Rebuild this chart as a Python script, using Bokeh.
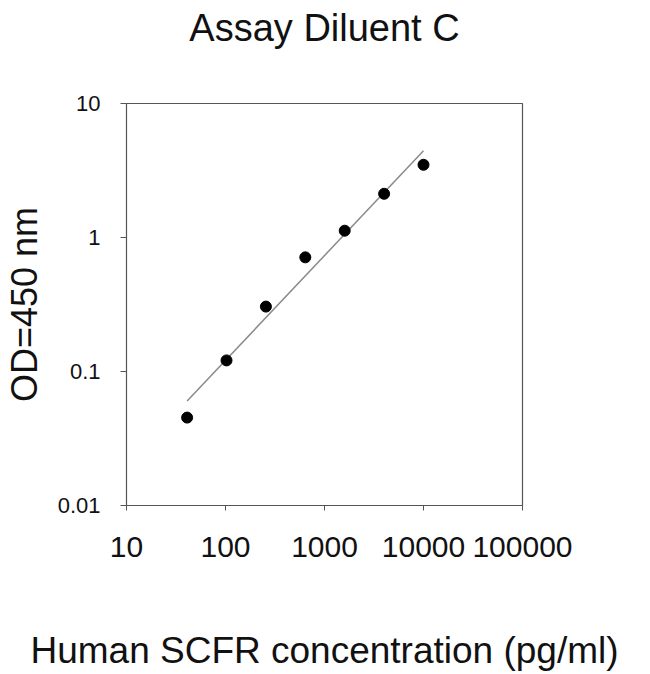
import numpy as np
from bokeh.plotting import figure
from bokeh.models import FixedTicker, Title
from bokeh.embed import file_html
from bokeh.resources import INLINE

# Data
concentration = [40.96, 102.4, 256, 640, 1600, 4000, 10000]
od450 = [0.0453, 0.121, 0.305, 0.711, 1.124, 2.12, 3.49]

x_ticks = [10, 100, 1000, 10000, 100000]
x_tick_labels = ["10", "100", "1000", "10000", "100000"]
y_ticks = [0.01, 0.1, 1, 10]
y_tick_labels = ["0.01", "0.1", "1", "10"]

title_text = "Assay Diluent C"
x_label = "Human SCFR concentration (pg/ml)"
y_label = "OD=450 nm"

FONT = "Liberation Sans"

# log-log linear fit (trend line)
lx = np.log10(concentration)
ly = np.log10(od450)
slope, intercept = np.polyfit(lx, ly, 1)
fit_x = [concentration[0], concentration[-1]]
fit_y = [10 ** (intercept + slope * np.log10(v)) for v in fit_x]

p = figure(width=650, height=674, x_axis_type="log", y_axis_type="log",
           x_range=(10, 100000), y_range=(0.01, 10),
           output_backend="svg", toolbar_location=None,
           min_border_left=125, min_border_right=128,
           min_border_top=103, min_border_bottom=169)

# trailing blank line keeps the title at the top of the 103px band
t = Title(text=title_text + "\n", align="center", text_font=FONT,
          text_font_size="38px", text_font_style="normal",
          text_line_height=1.25, text_color="#111111", standoff=4)
p.add_layout(t, "above")

p.line(fit_x, fit_y, line_color="#8a8a8a", line_width=1.5)
p.scatter(concentration, od450, size=11, fill_color="black", line_color="black")

p.grid.visible = False
p.outline_line_color = "#555555"
p.outline_line_width = 1.2
p.background_fill_color = "white"
p.border_fill_color = "white"

xa = p.xaxis[0]
xa.ticker = FixedTicker(ticks=x_ticks)
xa.major_label_overrides = {t_: l for t_, l in zip(x_ticks, x_tick_labels)}
xa.minor_tick_line_color = None
xa.major_tick_in = 0
xa.major_tick_out = 5
xa.axis_line_color = "#555555"
xa.major_tick_line_color = "#555555"
xa.major_label_text_font = FONT
xa.major_label_text_font_size = "30px"
xa.major_label_text_color = "#111111"
xa.major_label_standoff = 26
xa.axis_label = x_label
xa.axis_label_text_font = FONT
xa.axis_label_text_font_size = "37px"
xa.axis_label_text_font_style = "normal"
xa.axis_label_text_color = "#111111"
xa.axis_label_standoff = 70

ya = p.yaxis[0]
ya.ticker = FixedTicker(ticks=y_ticks)
ya.major_label_overrides = {t_: l for t_, l in zip(y_ticks, y_tick_labels)}
ya.minor_tick_line_color = None
ya.major_tick_in = 0
ya.major_tick_out = 6
ya.axis_line_color = "#555555"
ya.major_tick_line_color = "#555555"
ya.major_label_text_font = FONT
ya.major_label_text_font_size = "22px"
ya.major_label_text_color = "#111111"
ya.major_label_standoff = 20
ya.axis_label = y_label
ya.axis_label_text_font = FONT
ya.axis_label_text_font_size = "36px"
ya.axis_label_text_font_style = "normal"
ya.axis_label_text_color = "#111111"
ya.axis_label_standoff = 10

open("out.html", "w").write(file_html(p, INLINE))
